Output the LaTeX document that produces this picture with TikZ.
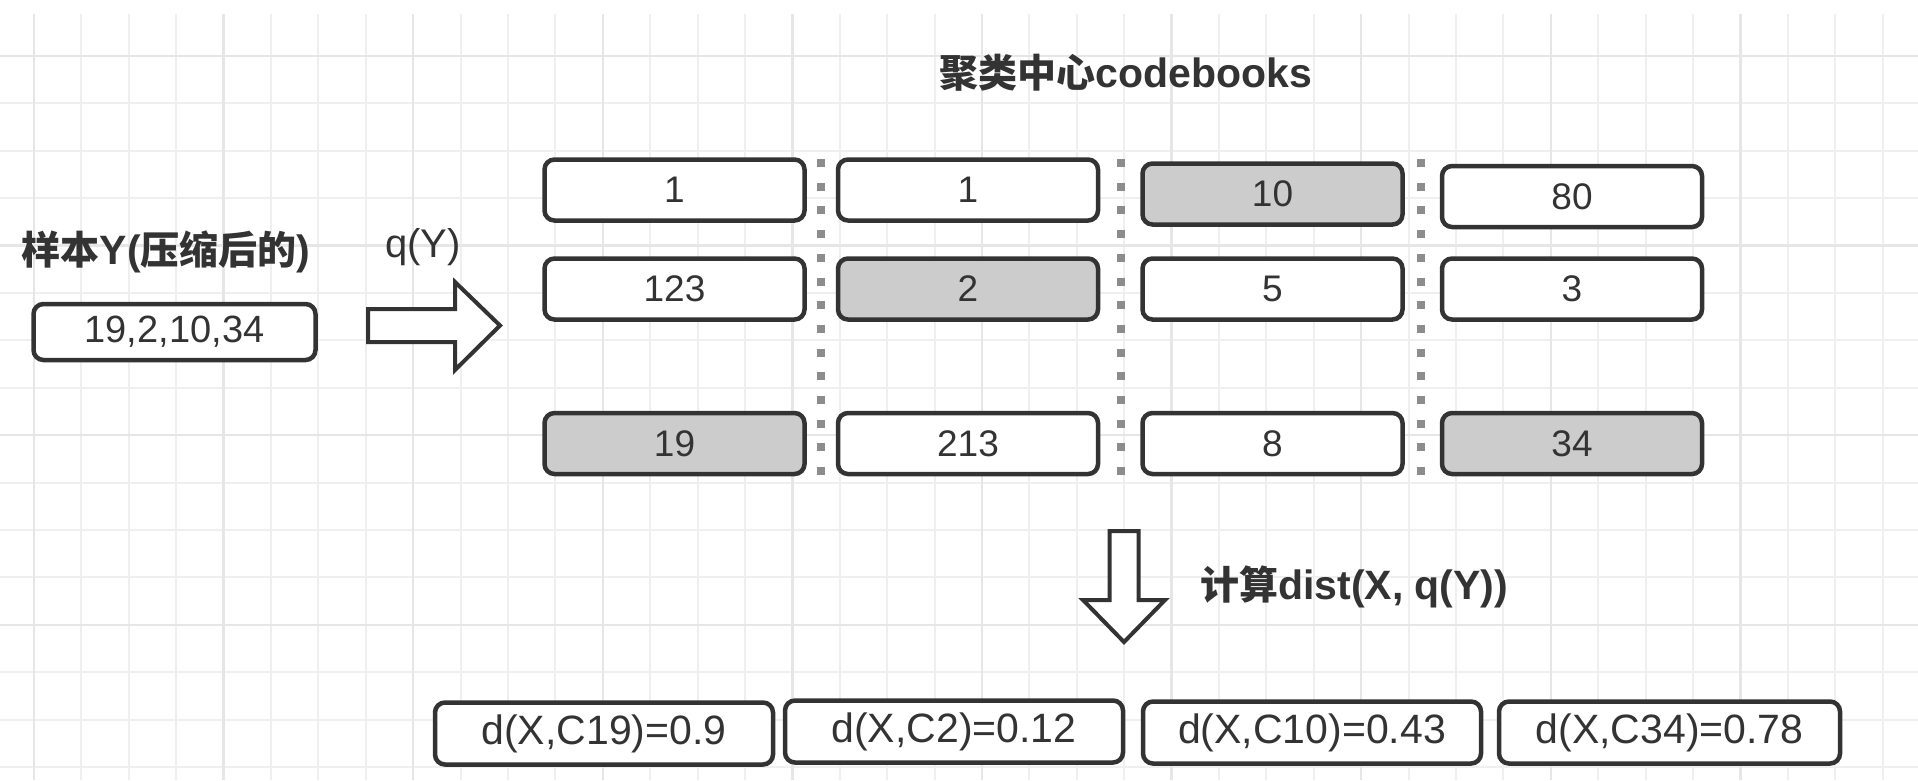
\documentclass[tikz,border=0pt]{standalone}
\usepackage{fontspec}
\setmainfont{Liberation Sans}
\newfontfamily\cjk{Noto Sans CJK SC}
\newcommand{\cjkt}[1]{{\cjk\fontsize{39}{42}\selectfont #1}}
\definecolor{boxline}{HTML}{333333}
\definecolor{txt}{HTML}{333333}
\definecolor{hlgray}{HTML}{CCCCCC}
\definecolor{dotgray}{HTML}{8C8C8C}
\definecolor{gridminor}{HTML}{EFEFEF}
\definecolor{gridmajor}{HTML}{E6E6E6}
\begin{document}
\begin{tikzpicture}[x=1pt,y=-1pt,
  cb/.style={draw=boxline, line width=4.5pt, rounded corners=10pt, fill=white,
    minimum width=260pt, minimum height=61pt, inner sep=0pt, text=txt,
    font=\fontsize{37}{40}\selectfont},
  hl/.style={cb, fill=hlgray},
  dbox/.style={cb, minimum width=338pt, minimum height=62pt, font=\fontsize{41}{44}\selectfont},
  lbl/.style={text=txt, inner sep=0pt, font=\fontsize{41}{44}\selectfont\bfseries},
  gridminorline/.style={draw=gridminor, line width=2pt},
  gridmajorline/.style={draw=gridmajor, line width=2.4pt},
  dotline/.style={draw=dotgray, line width=8pt, dash pattern=on 8pt off 15.7pt},
  blockarrow/.style={draw=boxline, fill=white, line width=4pt, line join=miter}
]
\useasboundingbox (0,0) rectangle (1918,780);
\fill[white] (0,0) rectangle (1918,780);
% grid
\foreach \i in {0,...,39} {
  \pgfmathsetmacro\xx{34+47.4*\i}
  \draw[gridminorline] (\xx,14) -- (\xx,780);
}
\foreach \j in {0,...,15} {
  \pgfmathsetmacro\yy{56+47.4*\j}
  \draw[gridminorline] (0,\yy) -- (1918,\yy);
}
\foreach \i in {0,4,...,39} {
  \pgfmathsetmacro\xx{34+47.4*\i}
  \draw[gridmajorline] (\xx,14) -- (\xx,780);
}
\foreach \j in {0,4,...,15} {
  \pgfmathsetmacro\yy{56+47.4*\j}
  \draw[gridmajorline] (0,\yy) -- (1918,\yy);
}

% title and labels
\node[lbl] (title) at (1126,73) {\cjkt{聚类中心}codebooks};
\node[lbl] (sample) at (166,252) {\cjkt{样本}Y(\cjkt{压缩后的})};
\node[lbl, font=\fontsize{40}{44}\selectfont] (qy) at (423,247) {q(Y)};
\node[lbl, anchor=west] (dist) at (1200,587) {\cjkt{计算}dist(X, q(Y))};

% sample box
\node[cb, minimum width=282pt, minimum height=56pt, font=\fontsize{38}{40}\selectfont] (ybox) at (174.5,332) {19,2,10,34};

% dotted separators
\coordinate (d1t) at (821,159); \coordinate (d1b) at (821,478);
\coordinate (d2t) at (1121,159); \coordinate (d2b) at (1121,478);
\coordinate (d3t) at (1421,159); \coordinate (d3b) at (1421,478);
\draw[dotline] (d1t) -- (d1b);
\draw[dotline] (d2t) -- (d2b);
\draw[dotline] (d3t) -- (d3b);

% codebook boxes
\node[cb] (c11) at (674.5,190) {1};
\node[cb] (c12) at (968,190) {1};
\node[hl] (c13) at (1272.5,194) {10};
\node[cb] (c14) at (1572,196.5) {80};
\node[cb] (c21) at (674.5,289) {123};
\node[hl] (c22) at (968,289) {2};
\node[cb] (c23) at (1272.5,289) {5};
\node[cb] (c24) at (1572,289) {3};
\node[hl] (c31) at (674.5,443.5) {19};
\node[cb] (c32) at (968,443.5) {213};
\node[cb] (c33) at (1272.5,443.5) {8};
\node[hl] (c34) at (1572,443.5) {34};

% block arrows
\coordinate (ra) at (368,325.5);
\draw[blockarrow] (ra) ++(0,-16.5) -- ++(87,0) -- ++(0,-27) -- (500,325.5) -- (455,370) -- (455,342) -- (368,342) -- cycle;
\coordinate (da) at (1124,531);
\draw[blockarrow] (da) ++(-14.5,0) -- ++(29,0) -- ++(0,69) -- (1165,600) -- (1124,642) -- (1083,600) -- (1109.5,600) -- cycle;

% distance boxes
\node[dbox] (r1) at (604,733.5) {d(X,C19)=0.9};
\node[dbox] (r2) at (954,731.5) {d(X,C2)=0.12};
\node[dbox] (r3) at (1312,732.5) {d(X,C10)=0.43};
\node[dbox, minimum width=341pt] (r4) at (1669.5,732.5) {d(X,C34)=0.78};
\end{tikzpicture}
\end{document}
